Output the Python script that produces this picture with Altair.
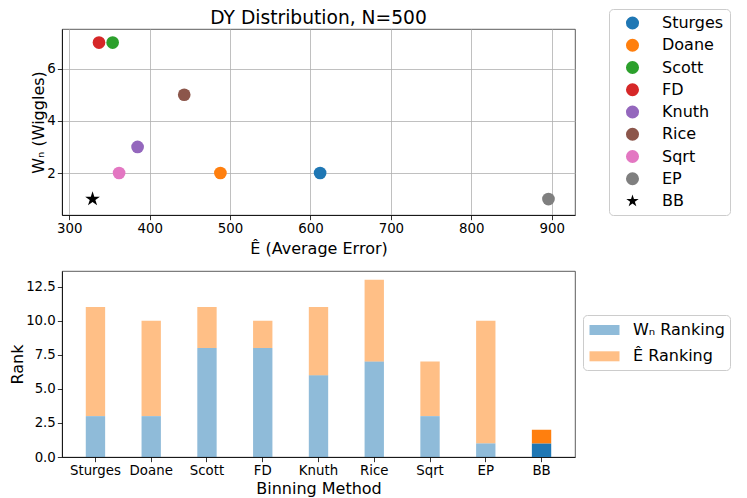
import altair as alt
import pandas as pd

methods = ["Sturges", "Doane", "Scott", "FD", "Knuth", "Rice", "Sqrt", "EP", "BB"]
avg_error = [612, 488, 354, 337, 385, 443, 362, 896, 329]
wiggles = [2, 2, 7, 7, 3, 5, 2, 1, 1]
wn_rank = [3, 3, 8, 8, 6, 7, 3, 1, 1]
e_rank = [8, 7, 3, 2, 5, 6, 4, 9, 1]
point_colors = ["#1f77b4", "#ff7f0e", "#2ca02c", "#d62728", "#9467bd",
                "#8c564b", "#e377c2", "#7f7f7f", "#000000"]
x_ticks = [300, 400, 500, 600, 700, 800, 900]
y_ticks_top = [2, 4, 6]
y_ticks_bot = [0, 2.5, 5, 7.5, 10, 12.5]
title_text = ["DY Distribution, N=500"]

WN = "Wₙ Ranking"
EH = "Ê Ranking"
series_names = [WN, EH]
bar_colors = ["#1f77b4", "#ff7f0e"]

STAR = ("M0,-1L0.225,-0.309L0.951,-0.309L0.363,0.118L0.588,0.809L0,0.382"
        "L-0.588,0.809L-0.363,0.118L-0.951,-0.309L-0.225,-0.309Z")
RECT = "M-1.5,-0.5h3v1h-3z"
shapes = ["circle"] * 8 + [STAR]

FONT = "DejaVu Sans"
W = 513
H = 186

scatter_df = pd.DataFrame({"method": methods, "error": avg_error, "wiggles": wiggles})
rank_df = pd.DataFrame({
    "method": methods * 2,
    "series": [WN] * len(methods) + [EH] * len(methods),
    "rank": wn_rank + e_rank,
})
title_df = pd.DataFrame({"t": title_text})

leg_top = alt.Legend(title=None, orient="none", legendX=W + 34, legendY=-20)

points = alt.Chart(scatter_df).mark_point(filled=True, opacity=1).encode(
    x=alt.X("error:Q",
            scale=alt.Scale(domain=[291, 929], nice=False, zero=False),
            axis=alt.Axis(values=x_ticks, title="Ê (Average Error)", grid=True,
                          titlePadding=5)),
    y=alt.Y("wiggles:Q",
            scale=alt.Scale(domain=[0.39, 7.52], nice=False, zero=False),
            axis=alt.Axis(values=y_ticks_top, title="Wₙ (Wiggles)", grid=True,
                          minExtent=16, maxExtent=16, titlePadding=0)),
    color=alt.Color("method:N", sort=methods,
                    scale=alt.Scale(domain=methods, range=point_colors),
                    legend=leg_top),
    shape=alt.Shape("method:N", sort=methods,
                    scale=alt.Scale(domain=methods, range=shapes),
                    legend=leg_top),
    size=alt.condition("datum.method == 'BB'", alt.value(239), alt.value(161)),
)

title_mark = alt.Chart(title_df).mark_text(
    fontSize=18.67, baseline="alphabetic", align="center", color="black", font=FONT
).encode(text="t:N", x=alt.value(W / 2), y=alt.value(-5.3))

top = alt.layer(points, title_mark).properties(width=W, height=H)

leg_bot = alt.Legend(
    title=None, orient="none", legendX=W + 8, legendY=44,
    padding=5, rowPadding=8.3, symbolType=RECT, symbolSize=400,
    symbolOffset=6.5, labelOffset=18.5, symbolOpacity=0.5,
)

bottom = alt.Chart(rank_df).transform_calculate(
    stack_order="datum.series == '" + WN + "' ? 0 : 1"
).mark_bar().encode(
    x=alt.X("method:N", sort=methods,
            scale=alt.Scale(paddingInner=0.653, paddingOuter=0.4265),
            axis=alt.Axis(title="Binning Method", labelAngle=0, titlePadding=3,
                          grid=False)),
    y=alt.Y("rank:Q", stack="zero",
            scale=alt.Scale(domain=[0, 13.65], nice=False),
            axis=alt.Axis(values=y_ticks_bot, format=".1f", title="Rank",
                          grid=False, minExtent=37, maxExtent=37,
                          titlePadding=0)),
    color=alt.Color("series:N",
                    scale=alt.Scale(domain=series_names, range=bar_colors),
                    legend=leg_bot),
    order=alt.Order("stack_order:Q"),
    opacity=alt.condition("datum.method == 'BB'", alt.value(1), alt.value(0.5)),
).properties(width=W, height=H)

chart = alt.vconcat(top, bottom, spacing=56, bounds="flush").resolve_scale(
    color="independent", shape="independent"
).properties(padding=0).configure(font=FONT).configure_axis(
    labelFontSize=13.33, titleFontSize=16, titleFontWeight="normal",
    labelColor="black", titleColor="black", tickColor="black",
    domainColor="black", tickSize=4.67, tickWidth=0.8, domainWidth=0.8,
    labelPadding=2, gridColor="#b0b0b0", gridWidth=0.8,
    labelFont=FONT, titleFont=FONT,
).configure_view(stroke="#333333", strokeWidth=0.8).configure_legend(
    labelFont=FONT, labelColor="black", labelFontSize=16,
    padding=6, rowPadding=6.25, symbolSize=170, symbolOffset=9.5,
    labelOffset=21.5, strokeColor="#cccccc", fillColor="white",
    cornerRadius=4, symbolStrokeWidth=0,
)

chart.save("out.html", embed_options={"renderer": "svg", "actions": False})
